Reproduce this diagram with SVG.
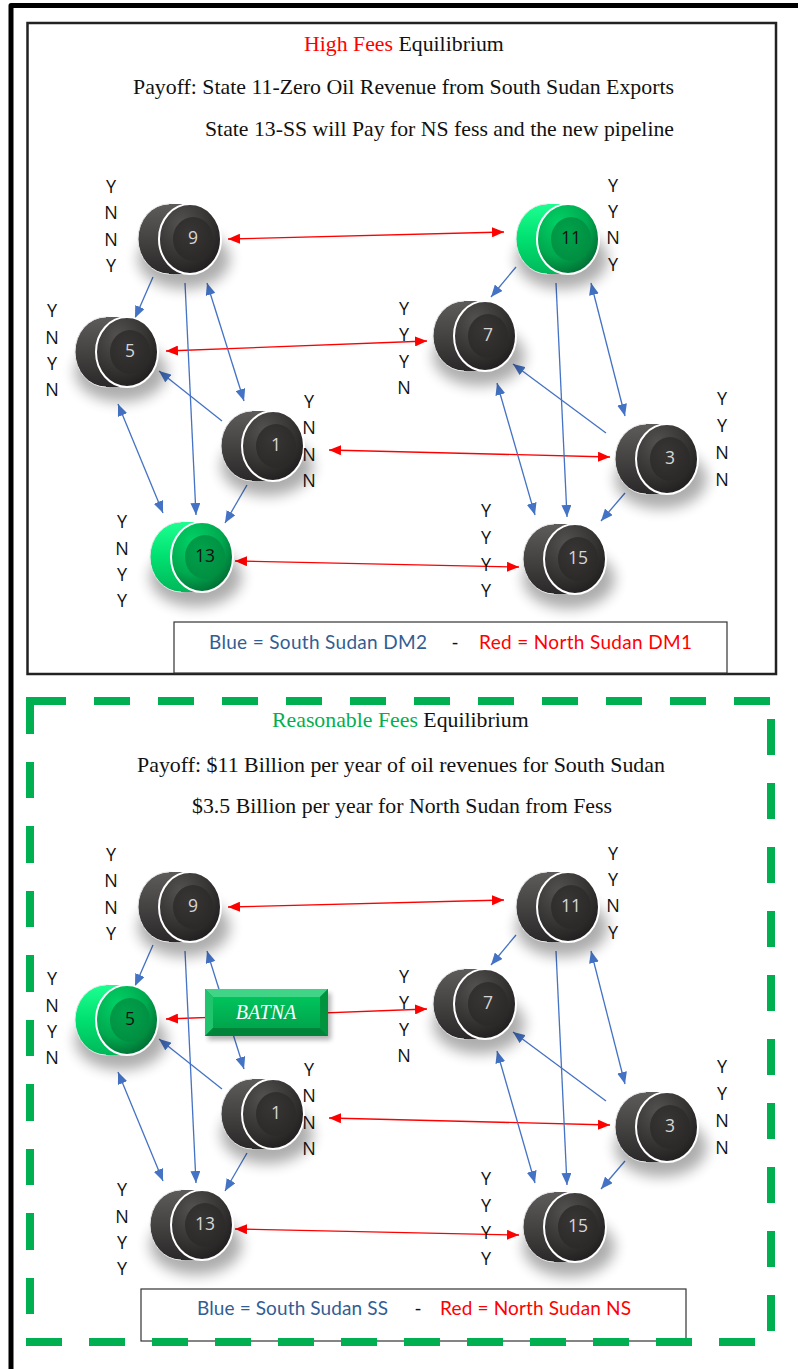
<svg xmlns="http://www.w3.org/2000/svg" xmlns:xlink="http://www.w3.org/1999/xlink" width="798" height="1369" viewBox="0 0 798 1369">
  <style>
    .yn { font-family: "Open Sans", "Liberation Sans", sans-serif; font-size: 18px; fill: #111; text-anchor: middle; }
    .num { font-family: "Open Sans", "Liberation Sans", sans-serif; font-size: 17.5px; text-anchor: middle; }
    .num-d { fill: #d6d6d6; }
    .num-g { fill: #111; }
    .serif { font-family: "Liberation Serif", "Times New Roman", serif; font-size: 21.8px; fill: #111; }
    .leg { font-family: Lato, "Open Sans", sans-serif; font-size: 19px; }
    .leg-b { fill: #325d93; }
    .leg-r { fill: #ff0000; }
    .red-l { stroke: #ff0000; stroke-width: 1.3; fill: none; marker-end: url(#ah-red); }
    .red-l2 { marker-start: url(#ah-red); }
    .blue-l { stroke: #4472c4; stroke-width: 1.3; fill: none; marker-end: url(#ah-blue); }
    .blue-l2 { marker-start: url(#ah-blue); }
    .box { fill: #fff; stroke: #333; stroke-width: 1.2; }
    .gdash { stroke: #00b050; stroke-width: 8; fill: none; }
  </style>
  <defs>
    <filter id="soft" x="-50%" y="-50%" width="200%" height="200%">
      <feGaussianBlur stdDeviation="7"/>
    </filter>
    <filter id="soft2" x="-20%" y="-40%" width="140%" height="180%">
      <feGaussianBlur stdDeviation="2.5"/>
    </filter>
    <marker id="ah-red" viewBox="0 0 12 10" refX="12" refY="5" markerWidth="12" markerHeight="10" markerUnits="userSpaceOnUse" orient="auto-start-reverse">
      <path d="M0,0 L12,5 L0,10 z" fill="#ff0000"/>
    </marker>
    <marker id="ah-blue" viewBox="0 0 12 10" refX="12" refY="5" markerWidth="12" markerHeight="10" markerUnits="userSpaceOnUse" orient="auto-start-reverse">
      <path d="M0,0 L12,5 L0,10 z" fill="#4472c4"/>
    </marker>

    <!-- dark knob shading -->
    <linearGradient id="darkSide" x1="0" y1="0" x2="0" y2="1">
      <stop offset="0" stop-color="#5e5b5b"/>
      <stop offset="0.5" stop-color="#454242"/>
      <stop offset="1" stop-color="#2a2828"/>
    </linearGradient>
    <radialGradient id="darkFace" cx="0.35" cy="0.28" r="0.85">
      <stop offset="0" stop-color="#545151"/>
      <stop offset="0.55" stop-color="#363333"/>
      <stop offset="1" stop-color="#1a1818"/>
    </radialGradient>
    <radialGradient id="darkCap" cx="0.4" cy="0.35" r="0.75">
      <stop offset="0" stop-color="#383535"/>
      <stop offset="1" stop-color="#2a2727"/>
    </radialGradient>

    <!-- green knob shading -->
    <linearGradient id="greenSide" x1="0" y1="0" x2="0" y2="1">
      <stop offset="0" stop-color="#1cff90"/>
      <stop offset="0.5" stop-color="#00e070"/>
      <stop offset="1" stop-color="#00b85a"/>
    </linearGradient>
    <radialGradient id="greenFace" cx="0.35" cy="0.28" r="0.85">
      <stop offset="0" stop-color="#00d266"/>
      <stop offset="0.55" stop-color="#00a94f"/>
      <stop offset="1" stop-color="#005c2b"/>
    </radialGradient>
    <radialGradient id="greenCap" cx="0.4" cy="0.35" r="0.75">
      <stop offset="0" stop-color="#00a24b"/>
      <stop offset="1" stop-color="#008c40"/>
    </radialGradient>

    <linearGradient id="batnaFace" x1="0" y1="0" x2="0" y2="1">
      <stop offset="0" stop-color="#00c45c"/>
      <stop offset="1" stop-color="#00a54c"/>
    </linearGradient>

    <!-- knob shapes, drawn around the centre of the front face -->
    <g id="knob-dark">
      <ellipse cx="-6" cy="20" rx="46" ry="30" fill="#000" opacity="0.32" filter="url(#soft)"/>
      <ellipse cx="-21" cy="0" rx="31" ry="35" fill="url(#darkSide)" stroke="#e8e8e8" stroke-width="1"/>
      <rect x="-21" y="-35" width="21" height="70" fill="url(#darkSide)"/>
      <ellipse cx="0" cy="0" rx="31" ry="35" fill="url(#darkFace)" stroke="#fff" stroke-width="2"/>
      <ellipse cx="3" cy="0" rx="20" ry="22" fill="url(#darkCap)"/>
    </g>
    <g id="knob-green">
      <ellipse cx="-6" cy="20" rx="46" ry="30" fill="#000" opacity="0.32" filter="url(#soft)"/>
      <ellipse cx="-21" cy="0" rx="31" ry="35" fill="url(#greenSide)" stroke="#e8e8e8" stroke-width="1"/>
      <rect x="-21" y="-35" width="21" height="70" fill="url(#greenSide)"/>
      <ellipse cx="0" cy="0" rx="31" ry="35" fill="url(#greenFace)" stroke="#fff" stroke-width="2"/>
      <ellipse cx="3" cy="0" rx="20" ry="22" fill="url(#greenCap)"/>
    </g>
  </defs>

  <rect width="798" height="1369" fill="#fff"/>

  <!-- outer page frame -->
  <path d="M11,1369 V5.5 H798" fill="none" stroke="#000" stroke-width="5" stroke-linejoin="round"/>

  <!-- ===== High fees panel ===== -->
  <g id="panel-high">
    <rect x="27.5" y="23" width="748.5" height="651" fill="none" stroke="#222" stroke-width="2.5"/>
    <text class="serif" x="304" y="51"><tspan fill="#ff0000">High Fees</tspan> Equilibrium</text>
    <text class="serif" x="133" y="94" textLength="541" lengthAdjust="spacingAndGlyphs">Payoff: State 11-Zero Oil Revenue from South Sudan Exports</text>
    <text class="serif" x="205" y="136" textLength="469" lengthAdjust="spacingAndGlyphs">State 13-SS will Pay for NS fess and the new pipeline</text>
  </g>

  <g id="connectors-high">
    <line class="red-l red-l2" x1="228" y1="239" x2="504" y2="232"/>
    <line class="red-l red-l2" x1="166" y1="351" x2="427" y2="341"/>
    <line class="red-l red-l2" x1="329" y1="450" x2="610" y2="457"/>
    <line class="red-l red-l2" x1="235" y1="561" x2="519" y2="567"/>
    <line class="blue-l" x1="153" y1="277" x2="135" y2="318"/>
    <line class="blue-l" x1="185" y1="283" x2="196" y2="515"/>
    <line class="blue-l blue-l2" x1="207" y1="283" x2="244" y2="401"/>
    <line class="blue-l blue-l2" x1="118" y1="404" x2="163" y2="513"/>
    <line class="blue-l" x1="222" y1="421" x2="159" y2="371"/>
    <line class="blue-l" x1="247" y1="485" x2="225" y2="523"/>
    <line class="blue-l" x1="516" y1="267" x2="491" y2="297"/>
    <line class="blue-l" x1="556" y1="283" x2="567" y2="517"/>
    <line class="blue-l blue-l2" x1="591" y1="283" x2="625" y2="416"/>
    <line class="blue-l blue-l2" x1="497" y1="383" x2="535" y2="515"/>
    <line class="blue-l" x1="606" y1="433" x2="513" y2="364"/>
    <line class="blue-l" x1="625" y1="493" x2="601" y2="521"/>
  </g>

  <g id="high-node-9">
    <use xlink:href="#knob-dark" transform="translate(190,239)"/>
    <text class="num num-d" x="193" y="244">9</text>
    <text class="yn"><tspan x="111" y="193">Y</tspan><tspan x="111" y="219">N</tspan><tspan x="111" y="246">N</tspan><tspan x="111" y="272">Y</tspan></text>
  </g>
  <g id="high-node-11">
    <use xlink:href="#knob-green" transform="translate(568,239)"/>
    <text class="num num-g" x="571" y="244">11</text>
    <text class="yn"><tspan x="613" y="192">Y</tspan><tspan x="613" y="218">Y</tspan><tspan x="613" y="244">N</tspan><tspan x="613" y="271">Y</tspan></text>
  </g>
  <g id="high-node-5">
    <use xlink:href="#knob-dark" transform="translate(127,352)"/>
    <text class="num num-d" x="130" y="357">5</text>
    <text class="yn"><tspan x="52" y="317">Y</tspan><tspan x="52" y="344">N</tspan><tspan x="52" y="370">Y</tspan><tspan x="52" y="396">N</tspan></text>
  </g>
  <g id="high-node-7">
    <use xlink:href="#knob-dark" transform="translate(485,336)"/>
    <text class="num num-d" x="488" y="341">7</text>
    <text class="yn"><tspan x="404" y="315">Y</tspan><tspan x="404" y="341">Y</tspan><tspan x="404" y="368">Y</tspan><tspan x="404" y="394">N</tspan></text>
  </g>
  <g id="high-node-1">
    <use xlink:href="#knob-dark" transform="translate(273,446)"/>
    <text class="num num-d" x="276" y="451">1</text>
    <text class="yn"><tspan x="309" y="408">Y</tspan><tspan x="309" y="434">N</tspan><tspan x="309" y="461">N</tspan><tspan x="309" y="487">N</tspan></text>
  </g>
  <g id="high-node-3">
    <use xlink:href="#knob-dark" transform="translate(667,459)"/>
    <text class="num num-d" x="670" y="464">3</text>
    <text class="yn"><tspan x="722" y="405">Y</tspan><tspan x="722" y="432">Y</tspan><tspan x="722" y="459">N</tspan><tspan x="722" y="486">N</tspan></text>
  </g>
  <g id="high-node-13">
    <use xlink:href="#knob-green" transform="translate(202,557)"/>
    <text class="num num-g" x="205" y="562">13</text>
    <text class="yn"><tspan x="122" y="528">Y</tspan><tspan x="122" y="555">N</tspan><tspan x="122" y="581">Y</tspan><tspan x="122" y="607">Y</tspan></text>
  </g>
  <g id="high-node-15">
    <use xlink:href="#knob-dark" transform="translate(575,559)"/>
    <text class="num num-d" x="578" y="564">15</text>
    <text class="yn"><tspan x="486" y="517">Y</tspan><tspan x="486" y="544">Y</tspan><tspan x="486" y="571">Y</tspan><tspan x="486" y="597">Y</tspan></text>
  </g>

  <g id="legend-high">
    <rect class="box" x="174" y="622" width="553" height="51"/>
    <text class="leg leg-b" x="209" y="649" textLength="218">Blue = South Sudan DM2</text>
    <text class="leg" x="455" y="649" text-anchor="middle" fill="#111">-</text>
    <text class="leg leg-r" x="479" y="649" textLength="213">Red = North Sudan DM1</text>
  </g>

  <!-- ===== Reasonable fees panel ===== -->
  <g id="panel-reasonable">
    <text class="serif" x="272" y="727"><tspan fill="#00b050">Reasonable Fees</tspan> Equilibrium</text>
    <text class="serif" x="137" y="772" textLength="528" lengthAdjust="spacingAndGlyphs">Payoff: $11 Billion per year of oil revenues for South Sudan</text>
    <text class="serif" x="192" y="813" textLength="420" lengthAdjust="spacingAndGlyphs">$3.5 Billion per year for North Sudan from Fess</text>
  </g>

  <g id="connectors-reasonable">
    <line class="red-l red-l2" x1="228" y1="907" x2="504" y2="900"/>
    <line class="red-l red-l2" x1="166" y1="1019" x2="427" y2="1009"/>
    <line class="red-l red-l2" x1="329" y1="1118" x2="610" y2="1125"/>
    <line class="red-l red-l2" x1="235" y1="1229" x2="519" y2="1235"/>
    <line class="blue-l" x1="153" y1="945" x2="135" y2="986"/>
    <line class="blue-l" x1="185" y1="951" x2="196" y2="1183"/>
    <line class="blue-l blue-l2" x1="207" y1="951" x2="244" y2="1069"/>
    <line class="blue-l blue-l2" x1="118" y1="1072" x2="163" y2="1181"/>
    <line class="blue-l" x1="222" y1="1089" x2="159" y2="1039"/>
    <line class="blue-l" x1="247" y1="1153" x2="225" y2="1191"/>
    <line class="blue-l" x1="516" y1="935" x2="491" y2="965"/>
    <line class="blue-l" x1="556" y1="951" x2="567" y2="1185"/>
    <line class="blue-l blue-l2" x1="591" y1="951" x2="625" y2="1084"/>
    <line class="blue-l blue-l2" x1="497" y1="1051" x2="535" y2="1183"/>
    <line class="blue-l" x1="606" y1="1101" x2="513" y2="1032"/>
    <line class="blue-l" x1="625" y1="1161" x2="601" y2="1189"/>
  </g>

  <g id="reasonable-node-9">
    <use xlink:href="#knob-dark" transform="translate(190,907)"/>
    <text class="num num-d" x="193" y="912">9</text>
    <text class="yn"><tspan x="111" y="861">Y</tspan><tspan x="111" y="887">N</tspan><tspan x="111" y="914">N</tspan><tspan x="111" y="940">Y</tspan></text>
  </g>
  <g id="reasonable-node-11">
    <use xlink:href="#knob-dark" transform="translate(568,907)"/>
    <text class="num num-d" x="571" y="912">11</text>
    <text class="yn"><tspan x="613" y="860">Y</tspan><tspan x="613" y="886">Y</tspan><tspan x="613" y="912">N</tspan><tspan x="613" y="939">Y</tspan></text>
  </g>
  <g id="reasonable-node-5">
    <use xlink:href="#knob-green" transform="translate(127,1020)"/>
    <text class="num num-g" x="130" y="1025">5</text>
    <text class="yn"><tspan x="52" y="985">Y</tspan><tspan x="52" y="1012">N</tspan><tspan x="52" y="1038">Y</tspan><tspan x="52" y="1064">N</tspan></text>
  </g>
  <g id="reasonable-node-7">
    <use xlink:href="#knob-dark" transform="translate(485,1004)"/>
    <text class="num num-d" x="488" y="1009">7</text>
    <text class="yn"><tspan x="404" y="983">Y</tspan><tspan x="404" y="1009">Y</tspan><tspan x="404" y="1036">Y</tspan><tspan x="404" y="1062">N</tspan></text>
  </g>
  <g id="reasonable-node-1">
    <use xlink:href="#knob-dark" transform="translate(273,1114)"/>
    <text class="num num-d" x="276" y="1119">1</text>
    <text class="yn"><tspan x="309" y="1076">Y</tspan><tspan x="309" y="1102">N</tspan><tspan x="309" y="1129">N</tspan><tspan x="309" y="1155">N</tspan></text>
  </g>
  <g id="reasonable-node-3">
    <use xlink:href="#knob-dark" transform="translate(667,1127)"/>
    <text class="num num-d" x="670" y="1132">3</text>
    <text class="yn"><tspan x="722" y="1073">Y</tspan><tspan x="722" y="1100">Y</tspan><tspan x="722" y="1127">N</tspan><tspan x="722" y="1154">N</tspan></text>
  </g>
  <g id="reasonable-node-13">
    <use xlink:href="#knob-dark" transform="translate(202,1225)"/>
    <text class="num num-d" x="205" y="1230">13</text>
    <text class="yn"><tspan x="122" y="1196">Y</tspan><tspan x="122" y="1223">N</tspan><tspan x="122" y="1249">Y</tspan><tspan x="122" y="1275">Y</tspan></text>
  </g>
  <g id="reasonable-node-15">
    <use xlink:href="#knob-dark" transform="translate(575,1227)"/>
    <text class="num num-d" x="578" y="1232">15</text>
    <text class="yn"><tspan x="486" y="1185">Y</tspan><tspan x="486" y="1212">Y</tspan><tspan x="486" y="1239">Y</tspan><tspan x="486" y="1265">Y</tspan></text>
  </g>

  <!-- BATNA bevel button sitting on the 5-7 link -->
  <g id="batna">
    <rect x="208" y="993" width="123" height="47" fill="#000" opacity="0.3" filter="url(#soft2)"/>
    <rect x="205" y="989" width="123" height="47" fill="#00a54c"/>
    <polygon points="205,989 328,989 320,997 213,997" fill="#3fd486"/>
    <polygon points="205,989 213,997 213,1028 205,1036" fill="#20c46c"/>
    <polygon points="328,989 328,1036 320,1028 320,997" fill="#00943f"/>
    <polygon points="205,1036 213,1028 320,1028 328,1036" fill="#00843a"/>
    <rect x="213" y="997" width="107" height="31" fill="url(#batnaFace)"/>
    <text x="266" y="1019" text-anchor="middle" font-family="Liberation Serif, Times New Roman, serif" font-style="italic" font-size="20" fill="#fff">BATNA</text>
  </g>

  <g id="legend-reasonable">
    <rect class="box" x="141" y="1289" width="545" height="52"/>
    <text class="leg leg-b" x="197" y="1315" textLength="191">Blue = South Sudan SS</text>
    <text class="leg" x="418" y="1315" text-anchor="middle" fill="#111">-</text>
    <text class="leg leg-r" x="440" y="1315" textLength="191">Red = North Sudan NS</text>
  </g>

  <!-- green dashed frame of the lower panel -->
  <g id="frame-reasonable">
    <path class="gdash" d="M26,701 H775" stroke-dasharray="40 28 36 28 36 28 36 28 36 28 36 28 36 28 36 28 36 28 36 28 36 28 36 100"/>
    <path class="gdash" d="M30,697 V1346" stroke-dasharray="37 28 36 28"/>
    <path class="gdash" d="M771,719 V1335" stroke-dasharray="36 28"/>
    <path class="gdash" d="M26,1342 H760" stroke-dasharray="36 27"/>
  </g>
</svg>
